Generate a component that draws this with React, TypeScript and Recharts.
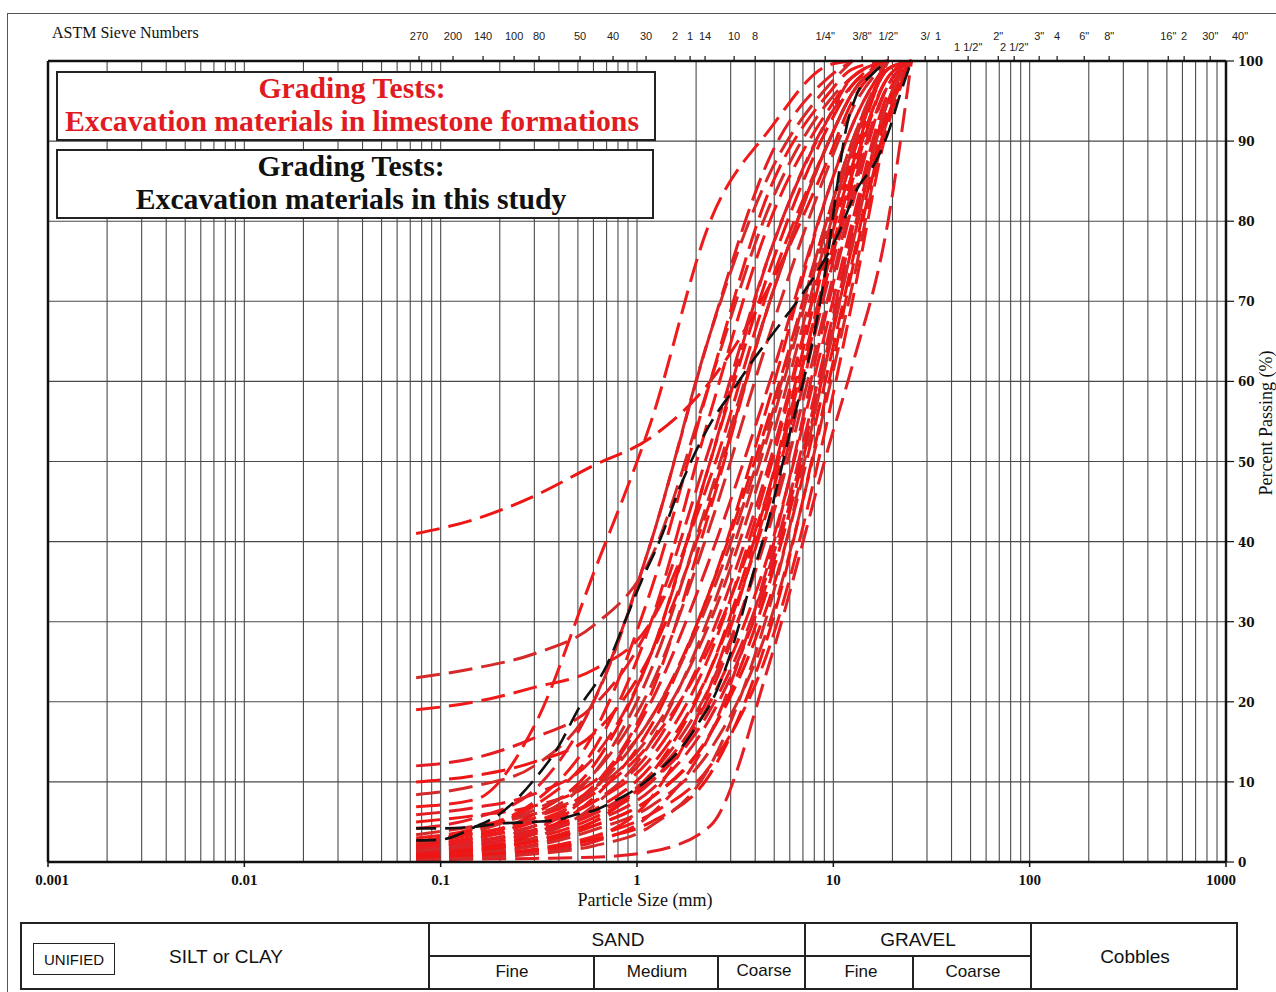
import React from 'react';
import { LineChart, Line, XAxis, YAxis, CartesianGrid, Label, ReferenceLine } from 'recharts';

const W = 1276;
const H = 992;
const PLOT = { left: 48, right: 1226, top: 61, bottom: 862 };

// Sieve sizes (mm) at which every red grading curve is read
const SIEVE_MM = [0.075, 0.15, 0.3, 0.6, 1.18, 2.36, 4.75, 9.5, 12.5, 19, 25];

// Red curves: percent passing at SIEVE_MM (curve stops once it reaches 100)
const T01 = [41, 42.8, 45.7, 49.5, 53, 60, 72, 88, 95, 100];
const T02 = [23, 24.2, 26, 29.5, 38, 60, 82, 95, 98, 100];
const T03 = [19, 20, 21.8, 24, 30, 48, 72, 90, 96, 100];
const T04 = [12, 13, 15.5, 19.5, 30, 52, 76, 93, 97, 100];
const T05 = [10, 10.8, 12.5, 16, 26, 45, 70, 90, 96, 100];
const T06 = [8.4, 9.5, 12, 20, 40, 66, 86, 97, 100];
const T07 = [6.9, 7.8, 17, 36, 55, 80, 91.5, 99.5, 100];
const T08 = [5.9, 6.8, 8.5, 13, 26, 50, 76, 93, 98, 100];
const T09 = [5, 5.8, 7, 10, 18, 34, 58, 84, 92, 100];
const T10 = [3.4, 4.5, 6, 9, 16, 30, 52, 79, 89, 99, 100];
const T11 = [2.2, 3.5, 5.5, 9.5, 21, 44, 70, 90, 96, 100];
const T12 = [1.9, 3, 4.5, 7.5, 14, 28, 50, 78, 88, 99, 100];
const T13 = [1.6, 2.6, 4, 6.5, 12, 24, 45, 74, 85, 98, 100];
const T14 = [1.3, 2.2, 3.5, 6, 11, 22, 42, 71, 83, 97, 100];
const T15 = [1.0, 1.8, 3, 5.5, 10, 20, 39, 68, 80, 96, 100];
const T16 = [0.8, 1.5, 2.6, 5, 9, 18, 36, 65, 78, 95, 100];
const T17 = [0.6, 1.2, 2.2, 4.5, 8, 16, 33, 62, 75, 94, 100];
const T18 = [0.4, 1, 2, 4, 7, 14, 30, 59, 72, 93, 100];
const T19 = [0.3, 0.8, 1.6, 3.2, 6, 12, 27, 56, 70, 92, 100];
const T20 = [0.3, 0.35, 0.45, 0.6, 1.3, 4.5, 25, 52, 62, 80, 100];
const T21 = [2, 3.2, 6, 12, 26, 50, 74, 92, 97, 100];
const T22 = [1.5, 2.8, 5.5, 11, 24, 46, 70, 90, 96, 100];
const T23 = [2.4, 4, 7, 14, 30, 56, 80, 94, 98, 100];
const T24 = [1.2, 2, 4, 9, 20, 38, 60, 84, 92, 100];
const T25 = [0.9, 1.6, 3.5, 8, 17, 34, 56, 81, 90, 100];
const T26 = [0.5, 1.2, 3, 7, 15, 31, 54, 80, 89, 100];
const T27 = [1.8, 3, 5, 8.5, 15, 27, 47, 75, 86, 98, 100];
const T28 = [1.1, 2, 3.6, 6, 10, 19, 37, 66, 79, 95, 100];
const T29 = [0.7, 1.4, 2.6, 4.5, 8, 16, 35, 64, 77, 95, 100];
const T30 = [2.3, 3.8, 6.5, 11, 22, 42, 66, 87, 94, 100];
const T31 = [0.5, 0.8, 1.4, 3, 8, 22, 46, 75, 86, 98, 100];
const T32 = [0.4, 0.7, 1.2, 2.5, 6, 16, 38, 70, 82, 97, 100];
const T33 = [0.6, 0.9, 1.5, 2.8, 5, 11, 29, 60, 74, 93, 100];
const T34 = [1.4, 2.4, 4.5, 9, 18, 33, 55, 81, 90, 99, 100];
const T35 = [3, 4.2, 7.5, 16, 34, 60, 84, 96, 99, 100];
const T36 = [4.2, 5.5, 9, 20, 40, 66, 88, 98, 100];
const T37 = [0.9, 1.5, 2.6, 5, 11, 24, 47, 77, 87, 99, 100];
const T38 = [0.2, 0.5, 1, 2, 4.5, 12, 32, 64, 77, 95, 100];
const T39 = [2.6, 3.6, 5, 7.5, 13, 26, 49, 78, 88, 99, 100];
const T40 = [1.7, 2.5, 3.8, 6, 10.5, 21, 43, 73, 84, 97, 100];

const RED_TESTS = [
  T01, T02, T03, T04, T05, T06, T07, T08, T09, T10,
  T11, T12, T13, T14, T15, T16, T17, T18, T19, T20,
  T21, T22, T23, T24, T25, T26, T27, T28, T29, T30,
  T31, T32, T33, T34, T35, T36, T37, T38, T39, T40,
];

// Black curves: this study
const STUDY_A_MM = [0.075, 0.1, 0.15, 0.2, 0.3, 0.4, 0.5, 0.7, 0.9, 1.05, 1.3, 1.7, 2.4, 3, 4, 5.3, 7, 8.2, 10.4, 13.2, 16.5, 19, 22, 25];
const STUDY_A_PCT = [2.7, 2.8, 4.4, 6, 10.3, 14.5, 19, 24.5, 31, 35, 40, 47.5, 55, 58.5, 63, 67, 71, 73.5, 78, 84, 87.5, 91, 96, 100];
const STUDY_B_MM = [0.075, 0.1, 0.15, 0.2, 0.3, 0.4, 0.5, 0.6, 0.75, 0.9, 1.3, 1.7, 2.1, 2.4, 2.9, 3.35, 3.9, 4.6, 5.3, 6, 6.7, 8, 9.4, 10.4, 11.5, 13, 16, 19];
const STUDY_B_PCT = [4.2, 4.2, 4.4, 4.8, 5, 5.3, 6, 6.4, 7.5, 8.5, 11.5, 14.4, 17.7, 20, 25, 30, 36, 42, 48, 53.5, 58, 66, 76, 84, 91, 95.5, 98.5, 100];

// Axis tick labels
const DECADES = [0.001, 0.01, 0.1, 1, 10, 100, 1000];
const DECADE_LABELS = ['0.001', '0.01', '0.1', '1', '10', '100', '1000'];
const Y_TICKS = [0, 10, 20, 30, 40, 50, 60, 70, 80, 90, 100];
const SIEVE_LABELS = ['270', '200', '140', '100', '80', '50', '40', '30', '2', '1', '14', '10', '8', '1/4"', '3/8"', '1/2"', '3/', '1', '1 1/2"', '2"', '2 1/2"', '3"', '4', '6"', '8"', '16"', '2', '30"', '40"'];
const SIEVE_LABEL_MM = [0.0776, 0.1156, 0.1644, 0.2366, 0.317, 0.5128, 0.7551, 1.112, 1.563, 1.864, 2.222, 3.124, 3.998, 9.09, 14.02, 19.03, 29.36, 34.2, 48.6, 69.2, 83.4, 111.8, 138, 189.6, 254, 508, 612, 831, 1000];
const SIEVE_LABEL_ROW = [0, 0, 0, 0, 0, 0, 0, 0, 0, 0, 0, 0, 0, 0, 0, 0, 0, 0, 1, 0, 1, 0, 0, 0, 0, 0, 0, 0, 0];

const GRID_X: number[] = [];
DECADES.forEach((d, i) => {
  if (i === DECADES.length - 1) { GRID_X.push(d); return; }
  for (let m = 1; m <= 9; m++) GRID_X.push(Number((d * m).toPrecision(3)));
});

const toPoints = (xs: number[], ys: number[]) => ys.map((y, i) => ({ x: xs[i], y }));

const RED_COLORS = ['#ee1515', '#d62a2a', '#f01a1a', '#e41e24'];

const BottomTick = (props: any) => {
  const { x, payload } = props;
  const idx = DECADES.findIndex((d) => Math.abs(d - payload.value) / d < 1e-6);
  if (idx < 0) return <g />;
  const dx = idx === 0 ? 4 : idx === DECADES.length - 1 ? -5 : 0;
  return (
    <g>
      <line x1={x} x2={x} y1={PLOT.bottom} y2={PLOT.bottom + 5} stroke="#111" strokeWidth={1.5} />
      <text x={x + dx} y={PLOT.bottom + 23} textAnchor="middle" fontFamily="'Liberation Serif', serif" fontWeight="bold" fontSize={15} fill="#111">
        {DECADE_LABELS[idx]}
      </text>
    </g>
  );
};

const TopTick = (props: any) => {
  const { x, index } = props;
  const row = SIEVE_LABEL_ROW[index] || 0;
  const dx = index === SIEVE_LABELS.length - 1 ? 14 : 0;
  return (
    <g>
      {index < SIEVE_LABELS.length - 1 && (
        <line x1={x} x2={x} y1={PLOT.top} y2={PLOT.top - 5} stroke="#111" strokeWidth={1.2} />
      )}
      <text x={x + dx} y={row === 0 ? 40 : 51} textAnchor="middle" fontFamily="'Liberation Sans', Arial, sans-serif" fontSize={11} fill="#222">
        {SIEVE_LABELS[index]}
      </text>
    </g>
  );
};

const RightTick = (props: any) => {
  const { y, payload } = props;
  return (
    <text x={PLOT.right + 12} y={y + 5} textAnchor="start" fontFamily="'DejaVu Serif', serif" fontWeight="bold" fontSize={12} fill="#111">
      {payload.value}
    </text>
  );
};

const boxText: React.CSSProperties = {
  fontFamily: "'Liberation Serif', 'Times New Roman', serif",
  fontWeight: 'bold',
  fontSize: 29.7,
  lineHeight: '33px',
  textAlign: 'center',
  position: 'relative',
  top: -1,
  left: -4,
};

const tableText: React.CSSProperties = {
  position: 'absolute',
  fontFamily: "'Liberation Sans', Arial, sans-serif",
  color: '#111',
  transform: 'translate(-50%, -50%)',
  whiteSpace: 'nowrap',
};

export default function App() {
  return (
    <div style={{ position: 'absolute', left: 0, top: 0, width: W, height: H, background: '#fff', overflow: 'hidden' }}>
      <LineChart width={W} height={H} margin={{ top: PLOT.top - 40, right: 0, bottom: H - PLOT.bottom - 30, left: PLOT.left }}>
        <CartesianGrid stroke="#4a4a4a" strokeWidth={1.1} />
        <XAxis
          dataKey="x"
          type="number"
          scale="log"
          domain={[0.001, 1000]}
          allowDataOverflow
          ticks={GRID_X}
          interval={0}
          height={30}
          tick={<BottomTick />}
          tickLine={false}
          axisLine={{ stroke: '#111', strokeWidth: 2.5 }}
        >
          <Label
            content={() => (
              <text x={645} y={906} textAnchor="middle" fontFamily="'Liberation Serif', serif" fontSize={18} fill="#111">
                Particle Size (mm)
              </text>
            )}
          />
        </XAxis>
        <XAxis
          xAxisId="top"
          orientation="top"
          dataKey="x"
          type="number"
          scale="log"
          domain={[0.001, 1000]}
          allowDataOverflow
          ticks={SIEVE_LABEL_MM}
          interval={0}
          height={40}
          tick={<TopTick />}
          tickLine={false}
          axisLine={{ stroke: '#111', strokeWidth: 2.5 }}
        >
          <Label
            content={() => (
              <text x={52} y={38} textAnchor="start" fontFamily="'Liberation Serif', serif" fontSize={16} fill="#111">
                ASTM Sieve Numbers
              </text>
            )}
          />
        </XAxis>
        <YAxis
          orientation="right"
          type="number"
          domain={[0, 100]}
          ticks={Y_TICKS}
          interval={0}
          width={50}
          tickSize={8}
          tickLine={{ stroke: '#111', strokeWidth: 1.2 }}
          tick={<RightTick />}
          axisLine={{ stroke: '#111', strokeWidth: 2.5 }}
        >
          <Label
            content={() => (
              <text
                x={1266}
                y={423}
                transform="rotate(-90 1266 423)"
                textAnchor="middle"
                dominantBaseline="central"
                fontFamily="'Liberation Serif', serif"
                fontSize={18}
                fill="#111"
              >
                Percent Passing (%)
              </text>
            )}
          />
        </YAxis>
        <ReferenceLine x={0.001} stroke="#111" strokeWidth={2.5} />
        {RED_TESTS.map((vals, i) => (
          <Line
            key={'red' + i}
            data={toPoints(SIEVE_MM, vals)}
            dataKey="y"
            type="monotone"
            stroke={RED_COLORS[i % RED_COLORS.length]}
            strokeWidth={3}
            strokeDasharray="24 9"
            dot={false}
            activeDot={false}
            isAnimationActive={false}
          />
        ))}
        <Line
          data={toPoints(STUDY_A_MM, STUDY_A_PCT)}
          dataKey="y"
          type="monotone"
          stroke="#111"
          strokeWidth={2.6}
          strokeDasharray="20 9"
          dot={false}
          activeDot={false}
          isAnimationActive={false}
        />
        <Line
          data={toPoints(STUDY_B_MM, STUDY_B_PCT)}
          dataKey="y"
          type="monotone"
          stroke="#111"
          strokeWidth={2.6}
          strokeDasharray="20 9"
          dot={false}
          activeDot={false}
          isAnimationActive={false}
        />
      </LineChart>

      {/* outer frame */}
      <div style={{ position: 'absolute', left: 7, top: 13, right: -2, bottom: -2, borderLeft: '1.5px solid #555', borderTop: '1.5px solid #555' }} />

      {/* title boxes */}
      <div style={{ position: 'absolute', left: 56, top: 71, width: 600, height: 70, boxSizing: 'border-box', border: '2px solid #222', background: '#fff' }}>
        <div style={{ ...boxText, color: '#e01b22' }}>
          <div>Grading Tests:</div>
          <div>Excavation materials in limestone formations</div>
        </div>
      </div>
      <div style={{ position: 'absolute', left: 56, top: 149, width: 598, height: 70, boxSizing: 'border-box', border: '2px solid #222', background: '#fff' }}>
        <div style={{ ...boxText, color: '#111' }}>
          <div>Grading Tests:</div>
          <div>Excavation materials in this study</div>
        </div>
      </div>

      {/* soil classification table */}
      <div style={{ position: 'absolute', left: 20, top: 922, width: 1218, height: 68, boxSizing: 'border-box', border: '2px solid #222' }} />
      {[429, 805, 1031].map((x) => (
        <div key={'v' + x} style={{ position: 'absolute', left: x - 1, top: 922, width: 2, height: 68, background: '#222' }} />
      ))}
      <div style={{ position: 'absolute', left: 429, top: 955, width: 602, height: 2, background: '#222' }} />
      {[594, 718, 913].map((x) => (
        <div key={'s' + x} style={{ position: 'absolute', left: x - 1, top: 956, width: 1.5, height: 34, background: '#222' }} />
      ))}
      <div style={{ position: 'absolute', left: 33, top: 943, width: 82, height: 32, boxSizing: 'border-box', border: '1.5px solid #222' }} />
      <div style={{ ...tableText, left: 74, top: 959, fontSize: 15 }}>UNIFIED</div>
      <div style={{ ...tableText, left: 226, top: 957, fontSize: 19 }}>SILT or CLAY</div>
      <div style={{ ...tableText, left: 618, top: 940, fontSize: 19 }}>SAND</div>
      <div style={{ ...tableText, left: 918, top: 940, fontSize: 19 }}>GRAVEL</div>
      <div style={{ ...tableText, left: 1135, top: 957, fontSize: 19 }}>Cobbles</div>
      <div style={{ ...tableText, left: 512, top: 972, fontSize: 17 }}>Fine</div>
      <div style={{ ...tableText, left: 657, top: 972, fontSize: 17 }}>Medium</div>
      <div style={{ ...tableText, left: 764, top: 971, fontSize: 17 }}>Coarse</div>
      <div style={{ ...tableText, left: 861, top: 972, fontSize: 17 }}>Fine</div>
      <div style={{ ...tableText, left: 973, top: 972, fontSize: 17 }}>Coarse</div>
    </div>
  );
}
